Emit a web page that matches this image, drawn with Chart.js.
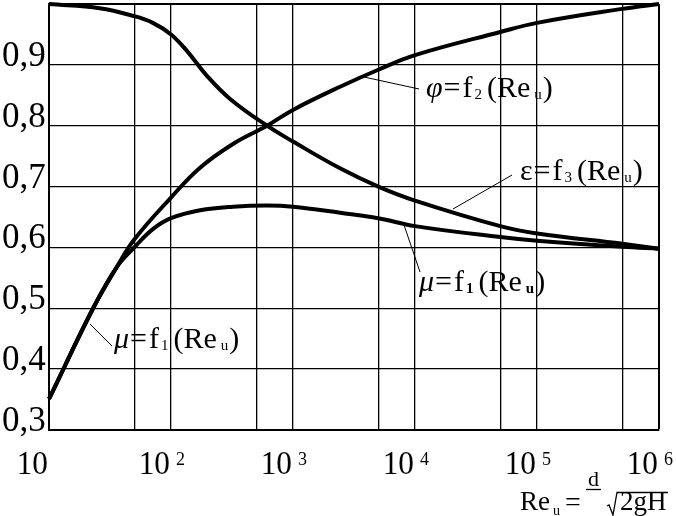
<!DOCTYPE html>
<html>
<head>
<meta charset="utf-8">
<script src="https://cdn.jsdelivr.net/npm/chart.js@4.4.0/dist/chart.umd.min.js"></script>
<style>
  html, body { margin: 0; padding: 0; background: #fff; }
  canvas { display: block; }
</style>
</head>
<body>
<canvas id="chart" width="676" height="516"></canvas>
<script>
const SERIF = '"Liberation Serif", "DejaVu Serif", serif';

// Re_u values on the log axis and the coefficients
const phiRe  = [10, 23, 36, 50, 100, 173, 322, 612, 1000, 2430, 5000, 1e4, 5e4, 1e5, 5e5, 1e6];
const phiVal = [0.351, 0.50, 0.568, 0.613, 0.682, 0.731, 0.770, 0.800, 0.826, 0.864, 0.892, 0.916, 0.954, 0.969, 0.992, 1.0];

const epsRe  = [10, 26, 50, 71, 100, 135, 197, 305, 612, 1000, 2430, 5000, 1e4, 5e4, 1e5, 5e5, 1e6];
const epsVal = [1.0, 0.993, 0.980, 0.969, 0.950, 0.923, 0.882, 0.844, 0.800, 0.774, 0.730, 0.700, 0.677, 0.635, 0.623, 0.606, 0.598];

const muRe  = [10, 23, 36, 50, 71, 100, 173, 322, 612, 1000, 2430, 5000, 1e4, 5e4, 1e5, 5e5, 1e6];
const muVal = [0.351, 0.50, 0.568, 0.600, 0.630, 0.648, 0.661, 0.667, 0.669, 0.667, 0.657, 0.648, 0.635, 0.617, 0.611, 0.601, 0.598];

// grid and tick labels
const xGrid = [10, 50, 100, 500, 1e3, 5e3, 1e4, 5e4, 1e5, 5e5, 1e6];
const xLabelExp = [1, 2, 3, 4, 5, 6];
const yTicks = [0.3, 0.4, 0.5, 0.6, 0.7, 0.8, 0.9, 1.0];
const yLabels = ['0,3', '0,4', '0,5', '0,6', '0,7', '0,8', '0,9'];

const F = (size, style) => (style ? style + ' ' : '') + size + 'px ' + SERIF;

function pts(xs, ys) {
  return xs.map((x, i) => ({ x: x, y: ys[i] }));
}

function rich(ctx, x, y, parts) {
  for (const p of parts) {
    x += p.gap || 0;
    ctx.font = p.font;
    ctx.fillText(p.t, x, y + (p.dy || 0));
    x += ctx.measureText(p.t).width;
  }
}

function fnLabel(sym, symFont, idx, subBold) {
  return [
    { t: sym, font: symFont },
    { t: '=', font: F(30), gap: 1 },
    { t: 'f', font: F(30), gap: 2 },
    { t: idx, font: F(15, subBold ? 'bold' : ''), gap: 2, dy: 2 },
    { t: '(', font: F(30), gap: 5 },
    { t: 'Re', font: F(30) },
    { t: 'u', font: F(15, subBold ? 'bold' : ''), gap: 4, dy: 2 },
    { t: ')', font: F(30), gap: 1 },
  ];
}

const decorations = {
  id: 'decorations',
  afterDraw(chart) {
    const ctx = chart.ctx;
    const xs = chart.scales.x;
    const ys = chart.scales.y;
    ctx.save();
    ctx.fillStyle = '#000';
    ctx.strokeStyle = '#000';
    ctx.textBaseline = 'alphabetic';

    // y tick labels
    ctx.font = F(35);
    ctx.textAlign = 'left';
    yLabels.forEach((lab, i) => {
      ctx.fillText(lab, 2, ys.getPixelForValue(yTicks[i]) + 1);
    });

    // x tick labels: 10, 10², ...
    xLabelExp.forEach(e => {
      const px = xs.getPixelForValue(Math.pow(10, e));
      ctx.save();
      ctx.font = F(34);
      ctx.textAlign = 'right';
      ctx.translate(px - 1, 474);
      ctx.scale(0.92, 1);
      ctx.fillText('10', 0, 0);
      ctx.restore();
      if (e > 1) {
        ctx.font = F(18);
        ctx.textAlign = 'left';
        ctx.fillText(String(e), px + 5, 465);
      }
    });

    // leader lines
    ctx.lineWidth = 1;
    const leaders = [
      [364, 77, 419, 89],
      [453, 209, 512, 175],
      [404, 225, 420, 272],
      [90, 324, 112, 346],
    ];
    leaders.forEach(l => {
      ctx.beginPath();
      ctx.moveTo(l[0], l[1]);
      ctx.lineTo(l[2], l[3]);
      ctx.stroke();
    });

    // curve labels
    ctx.textAlign = 'left';
    rich(ctx, 426, 97, fnLabel('φ', F(30, 'italic'), '2', false));
    rich(ctx, 520, 180, fnLabel('ε', F(30), '3', false));
    rich(ctx, 419, 291, fnLabel('μ', F(30, 'italic'), '1', true));
    rich(ctx, 114, 348, fnLabel('μ', F(30, 'italic'), '1', false));

    // axis title Re_u = d/ν √(2gH)
    ctx.font = F(27);
    ctx.fillText('Re', 520, 510);
    ctx.font = F(14);
    ctx.fillText('u', 553, 515);
    ctx.font = F(28);
    ctx.fillText('=', 565, 511);
    ctx.font = F(22);
    ctx.fillText('d', 588, 486);
    ctx.lineWidth = 1.3;
    ctx.beginPath();
    ctx.moveTo(586, 489.5);
    ctx.lineTo(601, 489.5);
    ctx.stroke();
    ctx.beginPath();
    ctx.moveTo(607, 506);
    ctx.lineTo(609, 505);
    ctx.lineTo(613, 515);
    ctx.lineTo(617, 492.5);
    ctx.lineTo(668, 492.5);
    ctx.stroke();
    ctx.font = F(27);
    ctx.fillText('2gH', 620, 510);

    ctx.restore();
  }
};

const line = data => ({
  data: data,
  borderColor: '#000',
  borderWidth: 4,
  pointRadius: 0,
  fill: false,
  tension: 0.4,
  clip: 3,
});

new Chart(document.getElementById('chart'), {
  type: 'line',
  data: {
    datasets: [
      line(pts(phiRe, phiVal)),
      line(pts(epsRe, epsVal)),
      line(pts(muRe, muVal)),
    ],
  },
  options: {
    responsive: false,
    animation: false,
    devicePixelRatio: 1,
    parsing: false,
    layout: { padding: { left: 49, top: 4, right: 17, bottom: 86 } },
    plugins: { legend: { display: false }, tooltip: { enabled: false } },
    scales: {
      x: {
        type: 'logarithmic',
        min: 10,
        max: 1e6,
        afterBuildTicks: s => { s.ticks = xGrid.map(v => ({ value: v })); },
        afterFit: s => { s.height = 0; },
        ticks: { display: false },
        grid: { color: '#000', lineWidth: c => (c.tick && c.tick.value === 1e6 ? 2 : 1.3), drawTicks: false },
        border: { color: '#000', width: 2 },
      },
      y: {
        min: 0.3,
        max: 1.0,
        afterBuildTicks: s => { s.ticks = yTicks.map(v => ({ value: v })); },
        afterFit: s => { s.width = 0; },
        ticks: { display: false },
        grid: { color: '#000', lineWidth: c => (c.tick && c.tick.value === 1.0 ? 2 : 1.3), drawTicks: false },
        border: { color: '#000', width: 2 },
      },
    },
  },
  plugins: [decorations],
});
</script>
</body>
</html>
